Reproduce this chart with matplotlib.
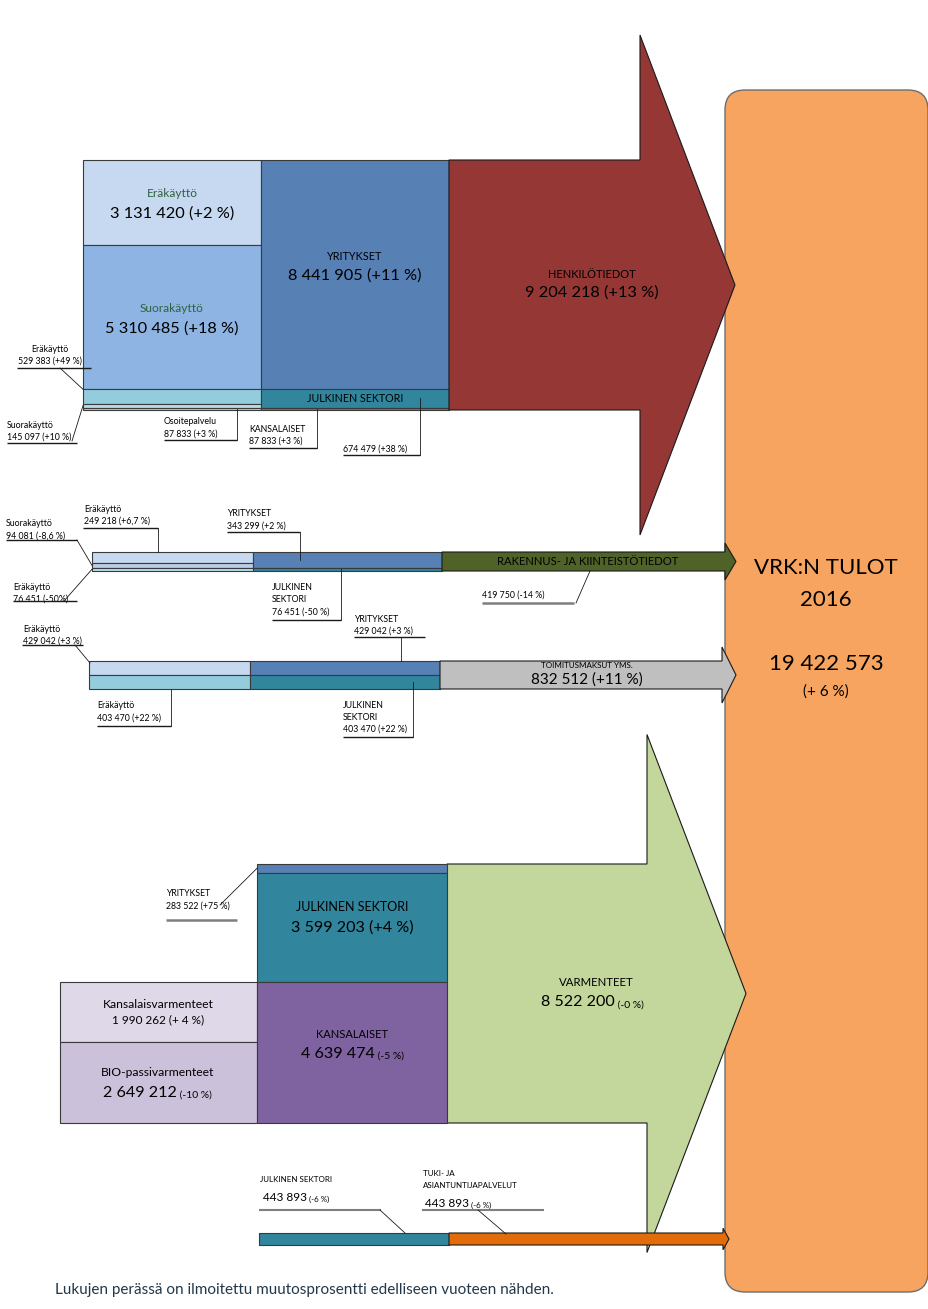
import numpy as np
import matplotlib
matplotlib.use("Agg")
import matplotlib.pyplot as plt
from matplotlib.patches import Rectangle, Polygon, FancyBboxPatch

plt.rcParams['font.family'] = ['Lato', 'DejaVu Sans']

# ---- data: VRK income 2016 (euros) and change vs previous year ----
# Henkilötiedot
hen_src_names = ["Eräkäyttö", "Suorakäyttö", "Eräkäyttö", "Suorakäyttö", "Osoitepalvelu"]
hen_src_values = [3131420, 5310485, 529383, 145097, 87833]
hen_src_change = ["+2 %", "+18 %", "+49 %", "+10 %", "+3 %"]
hen_cust_names = ["YRITYKSET", "JULKINEN SEKTORI", "KANSALAISET"]
hen_cust_values = [8441905, 674479, 87833]
hen_cust_change = ["+11 %", "+38 %", "+3 %"]
hen_total = 9204218
hen_change = "+13 %"

# Rakennus- ja kiinteistötiedot
rak_src_names = ["Eräkäyttö", "Suorakäyttö", "Eräkäyttö"]
rak_src_values = [249218, 94081, 76451]
rak_src_change = ["+6,7 %", "-8,6 %", "-50%"]
rak_cust_names = ["YRITYKSET", "JULKINEN\nSEKTORI"]
rak_cust_values = [343299, 76451]
rak_cust_change = ["+2 %", "-50 %"]
rak_total = 419750
rak_change = "-14 %"

# Toimitusmaksut yms.
toi_src_names = ["Eräkäyttö", "Eräkäyttö"]
toi_src_values = [429042, 403470]
toi_src_change = ["+3 %", "+22 %"]
toi_cust_names = ["YRITYKSET", "JULKINEN\nSEKTORI"]
toi_cust_values = [429042, 403470]
toi_cust_change = ["+3 %", "+22 %"]
toi_total = 832512
toi_change = "+11 %"

# Varmenteet
var_src_names = ["Kansalaisvarmenteet", "BIO-passivarmenteet"]
var_src_values = [1990262, 2649212]
var_src_change = ["+ 4 %", "-10 %"]
var_cust_names = ["YRITYKSET", "JULKINEN SEKTORI", "KANSALAISET"]
var_cust_values = [283522, 3599203, 4639474]
var_cust_change = ["+75 %", "+4 %", "-5 %"]
var_total = 8522200
var_change = "-0 %"

# Tuki- ja asiantuntijapalvelut
tuk_cust_names = ["JULKINEN SEKTORI"]
tuk_cust_values = [443893]
tuk_cust_change = ["-6 %"]
tuk_total = 443893
tuk_change = "-6 %"

grand_total = 19422573
grand_change = "+ 6 %"


def fmt(v):
    return f"{v:,}".replace(",", " ")


def stack(values, y0, height, total):
    h = np.array(values, dtype=float) / total * height
    tops = y0 + np.concatenate([[0], np.cumsum(h)[:-1]])
    return tops, h


def rect(ax, x0, x1, top, h, color, lw=0.8):
    ax.add_patch(Rectangle((x0, top), x1 - x0, h, facecolor=color,
                           edgecolor="#3a3a3a", linewidth=lw, zorder=2))


def arrow(ax, x0, xh, xt, ytop, ybot, pad, color, z=2):
    yc = (ytop + ybot) / 2
    pts = [(x0, ytop), (xh, ytop), (xh, ytop - pad), (xt, yc),
           (xh, ybot + pad), (xh, ybot), (x0, ybot)]
    ax.add_patch(Polygon(pts, closed=True, facecolor=color,
                         edgecolor="#1a1a1a", linewidth=0.8, zorder=z))


def note(ax, lines, x, y, ul, lead, ha="left", fs=6.3, ul_color="#1a1a1a", ul_lw=1.0):
    for i, s in enumerate(lines):
        ax.text(x, y + i * 12, s, ha=ha, va="center", fontsize=fs, zorder=5)
    ax.plot([ul[0], ul[1]], [ul[2], ul[2]], color=ul_color, lw=ul_lw, zorder=5,
            solid_capstyle="butt")
    ax.plot([lead[0], lead[2]], [lead[1], lead[3]], color="#1a1a1a", lw=0.6, zorder=5)


def mixed(ax, x, y, big, small, fs_big, fs_small, ha="left"):
    t = ax.text(x, y, big, ha=ha, va="baseline", fontsize=fs_big, zorder=5)
    ax.annotate(" " + small, xy=(1, 0), xycoords=t, va="bottom", ha="left",
                fontsize=fs_small, zorder=5)


fig = plt.figure(figsize=(9.29, 13.09), dpi=100)
ax = fig.add_axes([0, 0, 1, 1])
ax.set_xlim(0, 929)
ax.set_ylim(1309, 0)
ax.axis("off")

# big total box
ax.add_patch(FancyBboxPatch((725, 90), 203, 1202, boxstyle="round,pad=0,rounding_size=20",
                            facecolor="#f6a45f", edgecolor="#6e6e6e", linewidth=1.0, zorder=1))
ax.text(826, 568, "VRK:N TULOT", ha="center", va="center", fontsize=16, zorder=5)
ax.text(826, 600, "2016", ha="center", va="center", fontsize=16, zorder=5)
ax.text(826, 664, fmt(grand_total), ha="center", va="center", fontsize=16, zorder=5)
ax.text(826, 692, f"({grand_change})", ha="center", va="center", fontsize=11, zorder=5)

green = "#31613d"

# ---- Henkilötiedot ----
Y0, H = 160, 250
s_top, s_h = stack(hen_src_values, Y0, H, hen_total)
c_top, c_h = stack(hen_cust_values, Y0, H, hen_total)
for t, h, c in zip(s_top, s_h, ["#c6d9f1", "#8eb4e3", "#93cddd", "#b7dee8", "#ccc1da"]):
    rect(ax, 83, 261, t, h, c)
for t, h, c in zip(c_top, c_h, ["#5780b5", "#31859c", "#8064a2"]):
    rect(ax, 261, 449, t, h, c)
arrow(ax, 449, 640, 735, Y0, Y0 + H, 0.5 * H, "#953735")

for i in range(2):
    yc = s_top[i] + s_h[i] / 2
    ax.text(172, yc - 9, hen_src_names[i], ha="center", va="center", fontsize=8.6, color=green, zorder=5)
    ax.text(172, yc + 11, f"{fmt(hen_src_values[i])} ({hen_src_change[i]})", ha="center",
            va="center", fontsize=11.8, zorder=5)
yc = c_top[0] + c_h[0] / 2
ax.text(355, yc - 18, hen_cust_names[0], ha="center", va="center", fontsize=7.8, zorder=5)
ax.text(355, yc + 1, f"{fmt(hen_cust_values[0])} ({hen_cust_change[0]})", ha="center",
        va="center", fontsize=11.8, zorder=5)
ax.text(355, c_top[1] + c_h[1] / 2, hen_cust_names[1], ha="center", va="center", fontsize=7.7, zorder=5)
ax.text(592, Y0 + H / 2 - 10, "HENKILÖTIEDOT", ha="center", va="center", fontsize=8, zorder=5)
ax.text(592, Y0 + H / 2 + 8, f"{fmt(hen_total)} ({hen_change})", ha="center", va="center",
        fontsize=11.8, zorder=5)

note(ax, [hen_src_names[2], f"{fmt(hen_src_values[2])} ({hen_src_change[2]})"], 50, 349,
     (17, 91, 368), (60, 368, 83, s_top[2]), ha="center")
note(ax, [hen_src_names[3], f"{fmt(hen_src_values[3])} ({hen_src_change[3]})"], 7, 425,
     (7, 77, 443), (72, 441, 83, s_top[3] + s_h[3] / 2))
note(ax, [hen_src_names[4], f"{fmt(hen_src_values[4])} ({hen_src_change[4]})"], 164, 422,
     (164, 237, 440), (237, 440, 237, s_top[4] + s_h[4] / 2))
note(ax, [hen_cust_names[2], f"{fmt(hen_cust_values[2])} ({hen_cust_change[2]})"], 249, 429,
     (249, 317, 448), (317, 448, 317, c_top[2] + c_h[2] / 2))
note(ax, [f"{fmt(hen_cust_values[1])} ({hen_cust_change[1]})"], 343, 449,
     (343, 420, 455), (420, 455, 420, c_top[1] + c_h[1] / 2))

# ---- Rakennus- ja kiinteistötiedot ----
R0, RH = 552, 19
s_top, s_h = stack(rak_src_values, R0, RH, rak_total)
c_top, c_h = stack(rak_cust_values, R0, RH, rak_total)
for t, h, c in zip(s_top, s_h, ["#c6d9f1", "#b9cde5", "#b7dee8"]):
    rect(ax, 92, 253, t, h, c)
for t, h, c in zip(c_top, c_h, ["#5780b5", "#31859c"]):
    rect(ax, 253, 442, t, h, c)
arrow(ax, 442, 725, 736, R0, R0 + RH, 0.47 * RH, "#4f6228")
ax.text(588, R0 + RH / 2, "RAKENNUS- JA KIINTEISTÖTIEDOT", ha="center", va="center",
        fontsize=8.1, zorder=5)

note(ax, [rak_src_names[1], f"{fmt(rak_src_values[1])} ({rak_src_change[1]})"], 6, 524,
     (6, 77, 540), (77, 540, 92, s_top[1] + s_h[1] / 2))
note(ax, [rak_src_names[0], f"{fmt(rak_src_values[0])} ({rak_src_change[0]})"], 84, 509,
     (83, 158, 528), (158, 528, 158, R0))
note(ax, [rak_cust_names[0], f"{fmt(rak_cust_values[0])} ({rak_cust_change[0]})"], 227, 514,
     (227, 300, 532), (300, 532, 300, c_top[0] + c_h[0] / 2))
note(ax, [rak_src_names[2], f"{fmt(rak_src_values[2])} ({rak_src_change[2]})"], 13, 587,
     (13, 77, 601), (64, 601, 92, s_top[2] + s_h[2] / 2))
note(ax, rak_cust_names[1].split("\n") + [f"{fmt(rak_cust_values[1])} ({rak_cust_change[1]})"],
     272, 588, (272, 341, 620), (341, 620, 341, c_top[1] + c_h[1] / 2))
note(ax, [f"{fmt(rak_total)} ({rak_change})"], 482, 595,
     (482, 574, 603), (576, 603, 590, R0 + RH), ul_color="#7f7f7f", ul_lw=1.8)

# ---- Toimitusmaksut ----
T0, TH = 661, 28
s_top, s_h = stack(toi_src_values, T0, TH, toi_total)
c_top, c_h = stack(toi_cust_values, T0, TH, toi_total)
for t, h, c in zip(s_top, s_h, ["#c6d9f1", "#93cddd"]):
    rect(ax, 89, 250, t, h, c)
for t, h, c in zip(c_top, c_h, ["#5780b5", "#31859c"]):
    rect(ax, 250, 440, t, h, c)
arrow(ax, 440, 722, 736, T0, T0 + TH, 0.5 * TH, "#bfbfbf")
ax.text(587, T0 + 4, "TOIMITUSMAKSUT YMS.", ha="center", va="center", fontsize=5.8, zorder=5)
ax.text(587, T0 + 19, f"{fmt(toi_total)} ({toi_change})", ha="center", va="center",
        fontsize=11, zorder=5)

note(ax, [toi_src_names[0], f"{fmt(toi_src_values[0])} ({toi_src_change[0]})"], 23, 629,
     (22, 83, 645), (75, 645, 90, T0 + 2))
note(ax, [toi_cust_names[0], f"{fmt(toi_cust_values[0])} ({toi_cust_change[0]})"], 354, 619,
     (354, 425, 637), (401, 637, 401, T0))
note(ax, [toi_src_names[1], f"{fmt(toi_src_values[1])} ({toi_src_change[1]})"], 97, 706,
     (97, 171, 726), (171, 726, 171, T0 + TH))
note(ax, toi_cust_names[1].split("\n") + [f"{fmt(toi_cust_values[1])} ({toi_cust_change[1]})"],
     343, 705, (343, 413, 737), (413, 737, 413, c_top[1] + c_h[1] / 2))

# ---- Varmenteet ----
V0, VH = 864, 259
c_top, c_h = stack(var_cust_values, V0, VH, var_total)
s_top, s_h = stack(var_src_values, c_top[2], c_h[2], var_cust_values[2])
arrow(ax, 447, 647, 746, V0, V0 + VH, 0.5 * VH, "#c3d69b")
for t, h, c in zip(s_top, s_h, ["#dfd8e8", "#ccc1da"]):
    rect(ax, 60, 257, t, h, c)
for t, h, c in zip(c_top, c_h, ["#5780b5", "#31859c", "#7f62a0"]):
    rect(ax, 257, 447, t, h, c)

yc = c_top[1] + c_h[1] / 2
ax.text(352, yc - 20, var_cust_names[1], ha="center", va="center", fontsize=9, zorder=5)
ax.text(352, yc, f"{fmt(var_cust_values[1])} ({var_cust_change[1]})", ha="center",
        va="center", fontsize=11.6, zorder=5)
yc = c_top[2] + c_h[2] / 2
ax.text(352, yc - 18, var_cust_names[2], ha="center", va="center", fontsize=8, zorder=5)
mixed(ax, 338, yc + 5, fmt(var_cust_values[2]), f"({var_cust_change[2]})", 11.6, 7.5, ha="center")
yc = s_top[0] + s_h[0] / 2
ax.text(158, yc - 8, var_src_names[0], ha="center", va="center", fontsize=8.7, zorder=5)
ax.text(158, yc + 8, f"{fmt(var_src_values[0])} ({var_src_change[0]})", ha="center",
        va="center", fontsize=8.5, zorder=5)
yc = s_top[1] + s_h[1] / 2
ax.text(158, yc - 10, var_src_names[1], ha="center", va="center", fontsize=8.7, zorder=5)
mixed(ax, 140, yc + 14, fmt(var_src_values[1]), f"({var_src_change[1]})", 11.6, 7.5, ha="center")
ax.text(596, V0 + VH / 2 - 11, "VARMENTEET", ha="center", va="center", fontsize=8.2, zorder=5)
mixed(ax, 578, V0 + VH / 2 + 13, fmt(var_total), f"({var_change})", 11.6, 7.5, ha="center")

note(ax, [var_cust_names[0], f"{fmt(var_cust_values[0])} ({var_cust_change[0]})"], 166, 894,
     (166, 237, 920), (220, 905, 257, c_top[0] + c_h[0] / 2), ul_color="#7f7f7f", ul_lw=1.8)

# ---- Tuki- ja asiantuntijapalvelut ----
U0, UH = 1233, 12
c_top, c_h = stack(tuk_cust_values, U0, UH, tuk_total)
rect(ax, 259, 449, c_top[0], c_h[0], "#31859c")
arrow(ax, 449, 723, 729, U0, U0 + UH, 0.4 * UH, "#e36c0a", z=3)

ax.text(260, 1179, tuk_cust_names[0], ha="left", va="center", fontsize=5.8, zorder=5)
mixed(ax, 263, 1201, fmt(tuk_cust_values[0]), f"({tuk_cust_change[0]})", 8.5, 5.8)
ax.plot([260, 380], [1210, 1210], color="#7f7f7f", lw=1.5, zorder=5)
ax.plot([380, 405], [1210, U0], color="#1a1a1a", lw=0.6, zorder=5)

ax.text(423, 1173, "TUKI- JA", ha="left", va="center", fontsize=5.8, zorder=5)
ax.text(423, 1185, "ASIANTUNTIJAPALVELUT", ha="left", va="center", fontsize=5.8, zorder=5)
mixed(ax, 425, 1207, fmt(tuk_total), f"({tuk_change})", 8.5, 5.8)
ax.plot([423, 543], [1210, 1210], color="#7f7f7f", lw=1.5, zorder=5)
ax.plot([478, 506], [1210, U0 + 1], color="#1a1a1a", lw=0.6, zorder=5)

ax.text(55, 1290, "Lukujen perässä on ilmoitettu muutosprosentti edelliseen vuoteen nähden.",
        ha="left", va="center", fontsize=11, color="#22384a")

fig.savefig("out.png", dpi=100)
